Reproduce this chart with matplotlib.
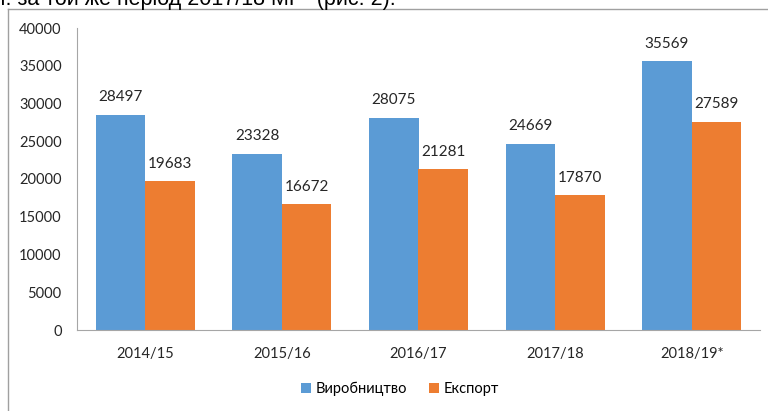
import matplotlib.pyplot as plt
import numpy as np
from matplotlib.lines import Line2D

plt.rcParams['font.family'] = ['Lato', 'DejaVu Sans']

# дані
seasons = ['2014/15', '2015/16', '2016/17', '2017/18', '2018/19*']
production = [28497, 23328, 28075, 24669, 35569]
export = [19683, 16672, 21281, 17870, 27589]
yticks = [0, 5000, 10000, 15000, 20000, 25000, 30000, 35000, 40000]

blue = '#5B9BD5'
orange = '#ED7D31'

fig = plt.figure(figsize=(7.68, 4.11), dpi=100)
ax = fig.add_axes([77/768, 81/411, 683/768, 302/411])

x = np.arange(len(seasons))
w = 0.363
b1 = ax.bar(x - w/2, production, w, color=blue, label='Виробництво')
b2 = ax.bar(x + w/2, export, w, color=orange, label='Експорт')

for bars, vals in ((b1, production), (b2, export)):
    for r, v in zip(bars, vals):
        ax.text(r.get_x() + r.get_width()/2, v + 1400, str(v),
                ha='center', va='bottom', fontsize=11, color='#262626')

ax.set_xlim(-0.5, len(seasons) - 0.5)
ax.set_ylim(0, 40000)
ax.set_yticks(yticks)
ax.set_xticks(x)
ax.set_xticklabels(seasons)
ax.tick_params(axis='both', length=0, labelsize=10.5, colors='#262626')
ax.tick_params(axis='y', pad=11)
ax.tick_params(axis='x', pad=12)
for s in ['top', 'right']:
    ax.spines[s].set_visible(False)
ax.spines['left'].set_color('#A6A6A6')
ax.spines['bottom'].set_color('#A6A6A6')

ax.legend(loc='center', bbox_to_anchor=(400/768, 1 - 389/411),
          bbox_transform=fig.transFigure, ncol=2, frameon=False,
          fontsize=10.5, handlelength=0.7, handleheight=0.7,
          handletextpad=0.3, columnspacing=1.5)

# рамка діаграми
fig.add_artist(Line2D([8/768, 8/768], [0, 1 - 9/411], color='#A0A0A0', lw=1,
                      transform=fig.transFigure))
fig.add_artist(Line2D([8/768, 1], [1 - 9/411, 1 - 9/411], color='#A0A0A0', lw=1,
                      transform=fig.transFigure))

# обрізаний рядок тексту над діаграмою
fig.text(-2/768, 1 - 5/411, 'т. за той же період 2017/18 МР" (рис. 2).',
         ha='left', va='baseline', fontsize=15.5, family=['Liberation Sans', 'DejaVu Sans'])

fig.savefig('out.png', dpi=100)
